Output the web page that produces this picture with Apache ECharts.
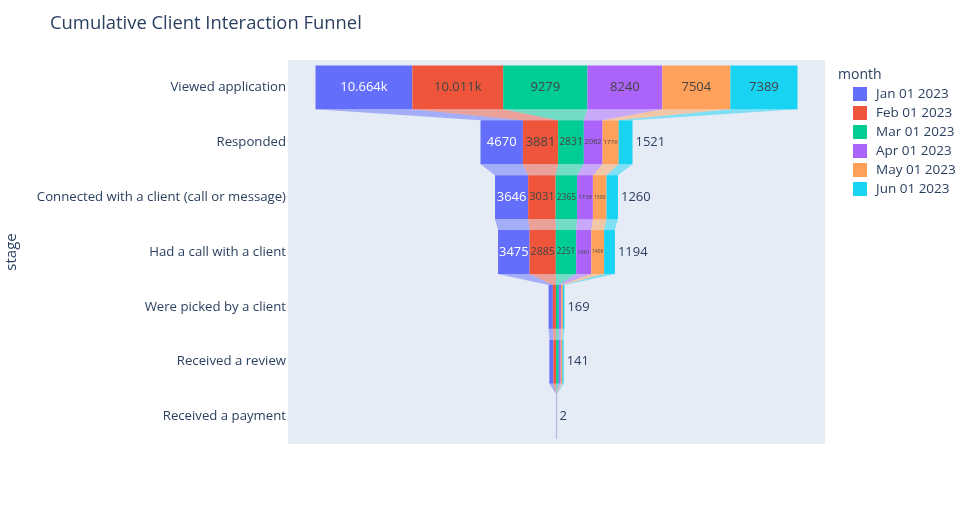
<!DOCTYPE html>
<html>
<head>
<meta charset="utf-8">
<script src="https://cdn.jsdelivr.net/npm/echarts@6/dist/echarts.min.js"></script>
<style>
  html, body { margin: 0; padding: 0; background: #fff; }
  #chart { width: 971px; height: 525px; }
</style>
</head>
<body>
<div id="chart"></div>
<script>
const stages = [
  "Viewed application",
  "Responded",
  "Connected with a client (call or message)",
  "Had a call with a client",
  "Were picked by a client",
  "Received a review",
  "Received a payment"
];
const months = ["Jan 01 2023", "Feb 01 2023", "Mar 01 2023", "Apr 01 2023", "May 01 2023", "Jun 01 2023"];
const colors = ["#636efa", "#EF553B", "#00cc96", "#ab63fa", "#FFA15A", "#19d3f3"];

const jan = [10664, 4670, 3646, 3475, 470, 440, 3];
const feb = [10011, 3881, 3031, 2885, 340, 310, 2];
const mar = [9279, 2831, 2365, 2251, 320, 290, 2];
const apr = [8240, 2062, 1738, 1661, 230, 210, 1];
const may = [7504, 1776, 1500, 1408, 210, 180, 1];
const jun = [7389, 1521, 1260, 1194, 169, 141, 2];
const values = [jan, feb, mar, apr, may, jun];

const FONT = '"Open Sans", verdana, arial, sans-serif';
const TEXTPAD = 3;

// stage totals, used to center the stacked funnel
const totals = stages.map((_, s) => values.reduce((a, arr) => a + arr[s], 0));

function starts(s, m) {
  let x = -totals[s] / 2;
  for (let k = 0; k < m; k++) x += values[k][s];
  return x;
}

function fmt(v) {
  return v >= 10000 ? (v / 1000).toFixed(3) + "k" : String(v);
}

const ctx = document.createElement("canvas").getContext("2d");
function textW(str, size) {
  ctx.font = size + "px " + FONT;
  return ctx.measureText(str).width;
}

function hexA(hex, a) {
  const n = parseInt(hex.slice(1), 16);
  return "rgba(" + (n >> 16) + "," + ((n >> 8) & 255) + "," + (n & 255) + "," + a + ")";
}

const chart = echarts.init(document.getElementById("chart"));

const series = months.map((name, m) => {
  const data = stages.map((_, s) => {
    const x0 = starts(s, m);
    const x1 = x0 + values[m][s];
    let nx0 = null, nx1 = null;
    if (s < stages.length - 1) {
      nx0 = starts(s + 1, m);
      nx1 = nx0 + values[m][s + 1];
    }
    return [s, x0, x1, values[m][s], nx0, nx1];
  });
  const isLast = m === months.length - 1;
  const insideColor = m === 0 ? "#ffffff" : "#444444";
  return {
    name: name,
    type: "custom",
    color: colors[m],
    encode: { x: [1, 2], y: 0 },
    data: data,
    renderItem: function (params, api) {
      const s = api.value(0);
      const x0 = api.value(1), x1 = api.value(2), v = api.value(3);
      const p0 = api.coord([x0, s]);
      const p1 = api.coord([x1, s]);
      const h = api.size([0, 1])[1] * 0.8;
      const bw = p1[0] - p0[0];
      const children = [];
      if (s < stages.length - 1) {
        const q0 = api.coord([api.value(4), s + 1]);
        const q1 = api.coord([api.value(5), s + 1]);
        children.push({
          type: "polygon",
          shape: { points: [
            [p0[0], p0[1] + h / 2], [p1[0], p1[1] + h / 2],
            [q1[0], q1[1] - h / 2], [q0[0], q0[1] - h / 2]
          ] },
          style: { fill: hexA(colors[m], 0.5) }
        });
      }
      children.push({
        type: "rect",
        shape: { x: p0[0], y: p0[1] - h / 2, width: bw, height: h },
        style: { fill: colors[m], stroke: bw < 1 ? "#b4b8d8" : null, lineWidth: bw < 1 ? 0.5 : 0 }
      });
      const txt = fmt(v);
      const base = 13;
      const tw = textW(txt, base);
      const th = base * 1.1;
      if (tw <= bw - 2 * TEXTPAD && th <= h - 2 * TEXTPAD) {
        children.push({
          type: "text",
          style: { text: txt, x: (p0[0] + p1[0]) / 2, y: p0[1], fill: insideColor,
            font: base + "px " + FONT, align: "center", verticalAlign: "middle" }
        });
      } else if (isLast) {
        children.push({
          type: "text",
          style: { text: txt, x: p1[0] + TEXTPAD, y: p0[1], fill: "#2a3f5f",
            font: base + "px " + FONT, align: "left", verticalAlign: "middle" }
        });
      } else {
        const sc = Math.min((bw - 2) / tw, 1);
        const fs = base * sc;
        if (fs > 1.5) {
          children.push({
            type: "text",
            style: { text: txt, x: (p0[0] + p1[0]) / 2, y: p0[1], fill: insideColor,
              font: fs.toFixed(2) + "px " + FONT, align: "center", verticalAlign: "middle" }
          });
        }
      }
      return { type: "group", children: children };
    }
  };
});

const option = {
  animation: false,
  title: [
    {
      text: "Cumulative Client Interaction Funnel",
      left: 45,
      top: 10,
      textStyle: { fontFamily: FONT, fontSize: 18.4, fontWeight: "normal", color: "#2a3f5f" }
    },
    {
      text: "month",
      left: 833,
      top: 63,
      textStyle: { fontFamily: FONT, fontSize: 14, fontWeight: "normal", color: "#2a3f5f" }
    }
  ],
  legend: {
    orient: "vertical",
    left: 848,
    top: 82,
    icon: "rect",
    itemWidth: 14,
    itemHeight: 14,
    itemGap: 5,
    data: months,
    textStyle: { fontFamily: FONT, fontSize: 13.5, color: "#2a3f5f", padding: [0, 0, 0, 4] }
  },
  grid: {
    left: 288,
    right: 146,
    top: 60,
    bottom: 81,
    show: true,
    backgroundColor: "#E5ECF6",
    borderWidth: 0,
    outerBoundsMode: "none",
    containLabel: false
  },
  xAxis: {
    type: "value",
    min: -29575,
    max: 29575,
    show: false
  },
  yAxis: {
    type: "category",
    data: stages,
    inverse: true,
    axisLine: { show: false },
    axisTick: { show: false },
    splitLine: { show: false },
    axisLabel: { fontFamily: FONT, fontSize: 13.2, color: "#2a3f5f", margin: 2 },
    name: "stage",
    nameLocation: "middle",
    nameGap: 269,
    nameTextStyle: { fontFamily: FONT, fontSize: 15, color: "#2a3f5f" }
  },
  series: series
};

chart.setOption(option);
</script>
</body>
</html>
